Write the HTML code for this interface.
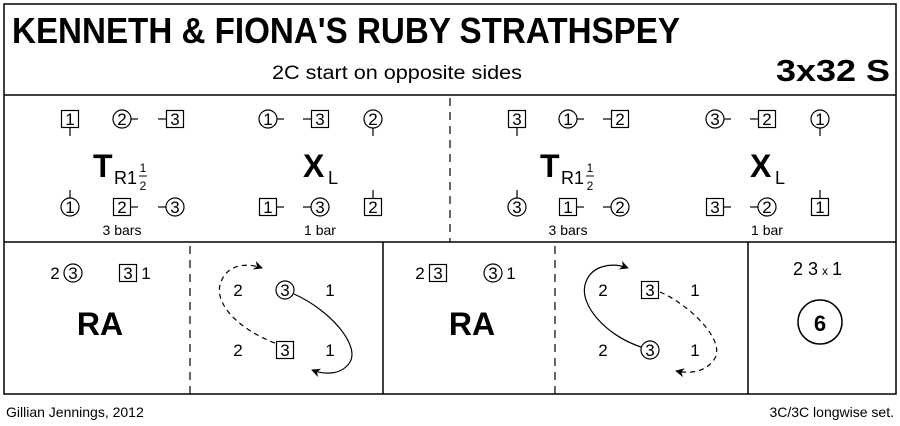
<!DOCTYPE html>
<html><head><style>body{margin:0;background:#fff}svg{display:block}text{font-family:"Liberation Sans",sans-serif;fill:#000}</style></head><body>
<svg width="900" height="426" viewBox="0 0 900 426" xmlns="http://www.w3.org/2000/svg">
<defs>
<marker id="ah" viewBox="0 0 10 10" refX="9" refY="5" markerWidth="9" markerHeight="9" orient="auto" markerUnits="userSpaceOnUse"><path d="M0,0 L10,5 L0,10 L3,5 z" fill="#000"/></marker>
</defs>
<g fill="none" stroke="#000" stroke-width="1.5">
<rect x="4" y="4" width="892" height="390"/>
<line x1="4" y1="95" x2="896" y2="95"/>
<line x1="4" y1="242" x2="896" y2="242"/>
<line x1="383" y1="242" x2="383" y2="394"/>
<line x1="748" y1="242" x2="748" y2="394"/>
<g stroke-dasharray="8,6" stroke-width="1.2">
<line x1="450" y1="98" x2="450" y2="242"/>
<line x1="190" y1="246" x2="190" y2="394"/>
<line x1="555" y1="246" x2="555" y2="394"/>
</g>
</g>
<text x="12" y="43" font-size="36" font-weight="bold" textLength="668" lengthAdjust="spacingAndGlyphs">KENNETH &amp; FIONA'S RUBY STRATHSPEY</text>
<text x="397" y="79" font-size="19" text-anchor="middle" textLength="250" lengthAdjust="spacingAndGlyphs">2C start on opposite sides</text>
<text x="890" y="81" font-size="31" font-weight="bold" text-anchor="end" textLength="114" lengthAdjust="spacingAndGlyphs">3x32 S</text>

<g fill="none" stroke="#000" stroke-width="1.2">
<rect x="61.5" y="110.5" width="17" height="17"/><line x1="70" y1="128" x2="70" y2="136"/>
<circle cx="122" cy="119" r="9"/><line x1="131" y1="119" x2="138" y2="119"/>
<rect x="166.5" y="110.5" width="17" height="17"/><line x1="166" y1="119" x2="158" y2="119"/>
<circle cx="268" cy="119" r="9"/><line x1="277" y1="119" x2="284" y2="119"/>
<rect x="311.5" y="110.5" width="17" height="17"/><line x1="311" y1="119" x2="303" y2="119"/>
<circle cx="373" cy="119" r="9"/><line x1="373" y1="128" x2="373" y2="136"/>
<circle cx="70" cy="207" r="9"/><line x1="70" y1="198" x2="70" y2="190"/>
<rect x="113.5" y="198.5" width="17" height="17"/><line x1="131" y1="207" x2="138" y2="207"/>
<circle cx="175" cy="207" r="9"/><line x1="166" y1="207" x2="158" y2="207"/>
<rect x="259.5" y="198.5" width="17" height="17"/><line x1="277" y1="207" x2="284" y2="207"/>
<circle cx="320" cy="207" r="9"/><line x1="311" y1="207" x2="303" y2="207"/>
<rect x="364.5" y="198.5" width="17" height="17"/><line x1="373" y1="198" x2="373" y2="190"/>
<rect x="508.5" y="110.5" width="17" height="17"/><line x1="517" y1="128" x2="517" y2="136"/>
<circle cx="568" cy="119" r="9"/><line x1="577" y1="119" x2="584" y2="119"/>
<rect x="611.5" y="110.5" width="17" height="17"/><line x1="611" y1="119" x2="603" y2="119"/>
<circle cx="715" cy="119" r="9"/><line x1="724" y1="119" x2="731" y2="119"/>
<rect x="758.5" y="110.5" width="17" height="17"/><line x1="758" y1="119" x2="750" y2="119"/>
<circle cx="820" cy="119" r="9"/><line x1="820" y1="128" x2="820" y2="136"/>
<circle cx="517" cy="207" r="9"/><line x1="517" y1="198" x2="517" y2="190"/>
<rect x="559.5" y="198.5" width="17" height="17"/><line x1="577" y1="207" x2="584" y2="207"/>
<circle cx="620" cy="207" r="9"/><line x1="611" y1="207" x2="603" y2="207"/>
<rect x="706.5" y="198.5" width="17" height="17"/><line x1="724" y1="207" x2="731" y2="207"/>
<circle cx="767" cy="207" r="9"/><line x1="758" y1="207" x2="750" y2="207"/>
<rect x="811.5" y="198.5" width="17" height="17"/><line x1="820" y1="198" x2="820" y2="190"/>
<circle cx="73" cy="273" r="9"/>
<rect x="119.5" y="264.5" width="17" height="17"/>
<circle cx="285" cy="290" r="9"/>
<rect x="276.5" y="341.5" width="17" height="17"/>
<rect x="429.5" y="264.5" width="17" height="17"/>
<circle cx="493" cy="273" r="9"/>
<rect x="641.5" y="281.5" width="17" height="17"/>
<circle cx="650" cy="350" r="9"/>
<circle cx="820" cy="322" r="22" stroke-width="1.5"/>
<path d="M275,343 C240,330 215,305 220,285 C225,265 245,262 262,268" stroke-dasharray="5,4" marker-end="url(#ah)"/>
<path d="M294,294 C330,310 360,345 350,362 C342,375 325,375 312,370" marker-end="url(#ah)"/>
<path d="M641,347 C605,335 580,305 585,285 C590,265 612,262 628,268" marker-end="url(#ah)"/>
<path d="M660,292 C690,305 725,340 715,358 C707,372 690,374 676,371" stroke-dasharray="5,4" marker-end="url(#ah)"/>
</g>

<g font-size="17" text-anchor="middle">
<text x="70" y="125">1</text><text x="122" y="125">2</text><text x="175" y="125">3</text>
<text x="268" y="125">1</text><text x="320" y="125">3</text><text x="373" y="125">2</text>
<text x="70" y="213">1</text><text x="122" y="213">2</text><text x="175" y="213">3</text>
<text x="268" y="213">1</text><text x="320" y="213">3</text><text x="373" y="213">2</text>
<text x="517" y="125">3</text><text x="568" y="125">1</text><text x="620" y="125">2</text>
<text x="715" y="125">3</text><text x="767" y="125">2</text><text x="820" y="125">1</text>
<text x="517" y="213">3</text><text x="568" y="213">1</text><text x="620" y="213">2</text>
<text x="715" y="213">3</text><text x="767" y="213">2</text><text x="820" y="213">1</text>
<text x="55" y="279">2</text><text x="73" y="279">3</text><text x="128" y="279">3</text><text x="146" y="279">1</text>
<text x="238" y="296">2</text><text x="285" y="296">3</text><text x="330" y="296">1</text>
<text x="238" y="356">2</text><text x="285" y="356">3</text><text x="330" y="356">1</text>
<text x="420" y="279">2</text><text x="438" y="279">3</text><text x="493" y="279">3</text><text x="511" y="279">1</text>
<text x="603" y="296">2</text><text x="650" y="296">3</text><text x="695" y="296">1</text>
<text x="603" y="356">2</text><text x="650" y="356">3</text><text x="695" y="356">1</text>
</g>
<g font-size="14" text-anchor="middle">
<text x="122" y="235">3 bars</text><text x="320" y="235">1 bar</text>
<text x="568" y="235">3 bars</text><text x="767" y="235">1 bar</text>
</g>
<g font-weight="bold" font-size="32">
<text x="93" y="177">T</text><text x="303" y="177">X</text>
<text x="540" y="177">T</text><text x="750" y="177">X</text>
<text x="100" y="335" text-anchor="middle">RA</text>
<text x="472" y="335" text-anchor="middle">RA</text>
<text x="820" y="331" font-size="22" text-anchor="middle">6</text>
</g>
<g font-size="18">
<text x="114" y="184">R1</text><text x="328" y="184">L</text>
<text x="561" y="184">R1</text><text x="775" y="184">L</text>
</g>
<g font-size="12" text-anchor="middle">
<text x="143" y="172">1</text><text x="143" y="190">2</text>
<text x="590" y="172">1</text><text x="590" y="190">2</text>
</g>
<g stroke="#000" stroke-width="1"><line x1="139" y1="176" x2="147" y2="176"/><line x1="586" y1="176" x2="594" y2="176"/></g>
<text x="793" y="275" font-size="18">2 3</text><text x="822" y="275" font-size="12">x</text><text x="832" y="275" font-size="18">1</text>
<text x="6" y="417" font-size="14">Gillian Jennings, 2012</text>
<text x="894" y="417" font-size="14" text-anchor="end">3C/3C longwise set.</text>
</svg>
</body></html>
